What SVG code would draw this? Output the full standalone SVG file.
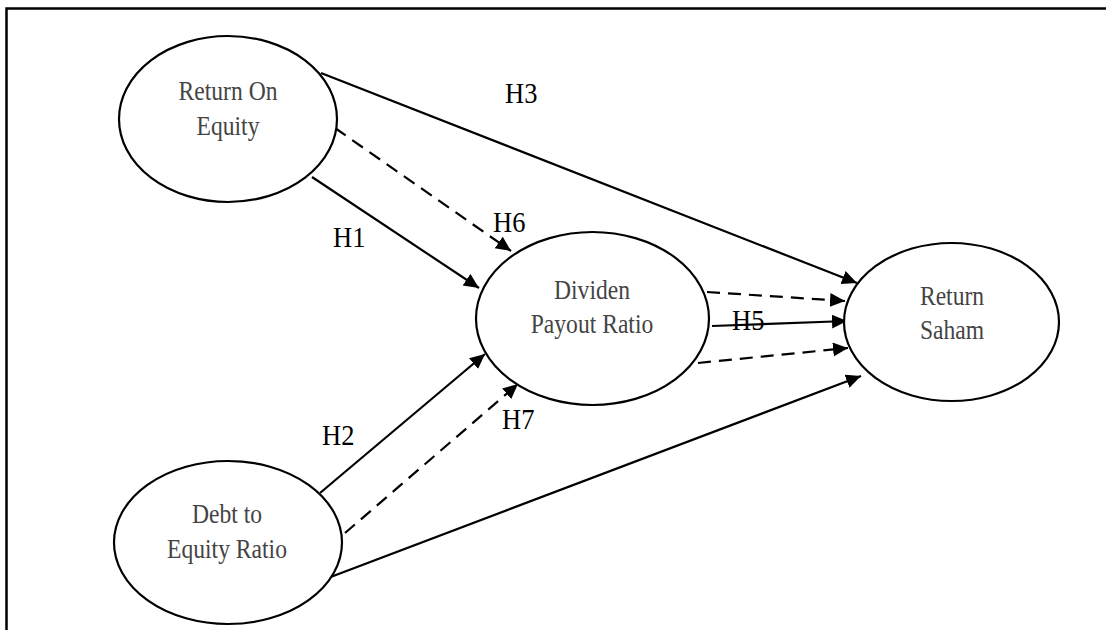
<svg xmlns="http://www.w3.org/2000/svg" width="1106" height="630" viewBox="0 0 1106 630">
  <defs>
    <marker id="arrow" markerUnits="userSpaceOnUse" markerWidth="17" markerHeight="15" refX="15" refY="7" orient="auto">
      <path d="M0,0 L15,7 L0,14 z" fill="#000"/>
    </marker>
    <style>
      .frame { stroke: #000; stroke-width: 2.5; fill: none; }
      .node { fill: #fff; stroke: #000; stroke-width: 2.2; }
      .label { font-family: "Liberation Serif", "Times New Roman", serif; font-size: 23.6px; fill: #444; text-anchor: middle; }
      .hyp { font-family: "Liberation Serif", "Times New Roman", serif; font-size: 26.5px; fill: #000; }
      .edge { stroke: #000; stroke-width: 2.2; fill: none; marker-end: url(#arrow); }
      .dashed { stroke-dasharray: 13 8; }
    </style>
  </defs>
  <rect width="1106" height="630" fill="#fff"/>

  <!-- outer frame (top and left sides) -->
  <path class="frame" d="M6.5,630 L6.5,8.5 L1106,8.5"/>

  <!-- connectors -->
  <g id="connectors">
    <line class="edge" x1="321" y1="73" x2="857" y2="283"/>
    <line class="edge dashed" x1="335" y1="128" x2="511" y2="251"/>
    <line class="edge" x1="312" y1="177" x2="479" y2="288"/>
    <line class="edge dashed" x1="707" y1="292" x2="845" y2="301"/>
    <line class="edge" x1="712" y1="326" x2="847" y2="321"/>
    <line class="edge dashed" x1="698" y1="363" x2="848" y2="348"/>
    <line class="edge" x1="320" y1="493" x2="485" y2="354"/>
    <line class="edge dashed" x1="345" y1="533" x2="518" y2="384"/>
    <line class="edge" x1="328" y1="578" x2="861" y2="376"/>
  </g>

  <!-- hypothesis labels -->
  <g id="hypotheses">
    <text class="hyp" transform="matrix(1 0 0 1.12 505 103)">H3</text>
    <text class="hyp" transform="matrix(1 0 0 1.12 333 247)">H1</text>
    <text class="hyp" transform="matrix(1 0 0 1.12 493 232)">H6</text>
    <text class="hyp" transform="matrix(1 0 0 1.12 732 330)">H5</text>
    <text class="hyp" transform="matrix(1 0 0 1.12 322 445)">H2</text>
    <text class="hyp" transform="matrix(1 0 0 1.12 502 429)">H7</text>
  </g>

  <g id="node-roe">
    <ellipse class="node" cx="228" cy="119" rx="109" ry="83"/>
    <text class="label" transform="matrix(1 0 0 1.14 228 100)">Return On</text>
    <text class="label" transform="matrix(1 0 0 1.14 228 135)">Equity</text>
  </g>

  <g id="node-dpr">
    <ellipse class="node" cx="592.5" cy="318.5" rx="116.5" ry="86.5"/>
    <text class="label" transform="matrix(1 0 0 1.14 592 299)">Dividen</text>
    <text class="label" transform="matrix(1 0 0 1.14 592 333)">Payout Ratio</text>
  </g>

  <g id="node-return-saham">
    <ellipse class="node" cx="951.5" cy="322" rx="107.5" ry="79"/>
    <text class="label" transform="matrix(1 0 0 1.14 952 305)">Return</text>
    <text class="label" transform="matrix(1 0 0 1.14 952 339)">Saham</text>
  </g>

  <g id="node-der">
    <ellipse class="node" cx="228" cy="542.5" rx="114" ry="81.5"/>
    <text class="label" transform="matrix(1 0 0 1.14 227 523)">Debt to</text>
    <text class="label" transform="matrix(1 0 0 1.14 227 558)">Equity Ratio</text>
  </g>
</svg>
